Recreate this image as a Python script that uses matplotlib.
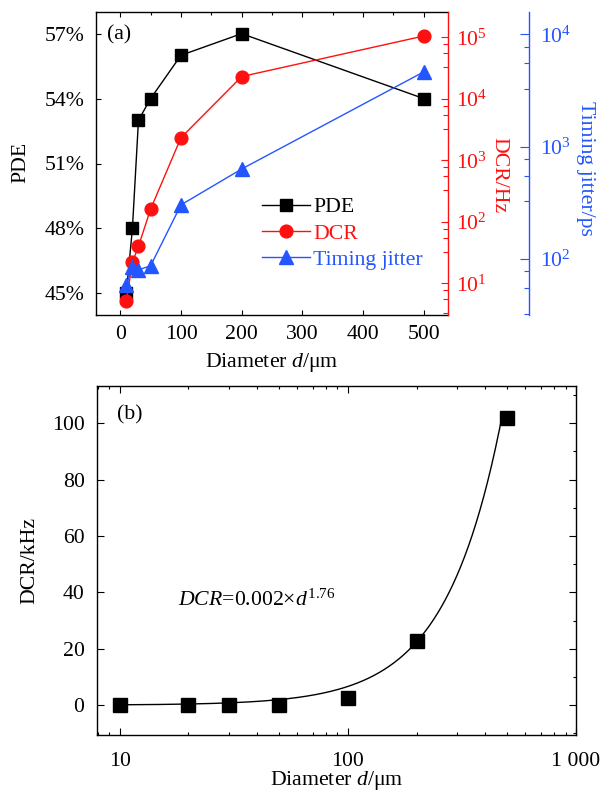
import matplotlib
matplotlib.use('Agg')
import matplotlib.pyplot as plt
from matplotlib.ticker import FixedLocator, FuncFormatter, MultipleLocator, LogLocator, NullFormatter
import numpy as np

FS = 15.7
plt.rcParams.update({
    'font.family': ['Liberation Serif', 'DejaVu Serif'],
    'font.size': FS,
    'mathtext.fontset': 'custom',
    'mathtext.rm': 'Liberation Serif',
    'mathtext.it': 'Liberation Serif:italic',
    'mathtext.default': 'regular',
    'axes.linewidth': 1.0,
})

# ---- data ----
diameter = [10, 20, 30, 50, 100, 200, 500]          # um
pde = [45, 48, 53, 54, 56, 57, 54]                   # %
dcr_hz = [5.2, 22, 40, 161, 2330, 23000, 105000]     # Hz
jitter_ps = [58.7, 85, 80, 87, 303, 632, 4630]       # ps
dcr_khz = [0.005, 0.022, 0.04, 0.16, 2.4, 22.7, 102] # kHz
fit_coef = 0.002
fit_exp = 1.76
fit_d_range = [10, 472]

pde_ticks = [45, 48, 51, 54, 57]
x_ticks_a = [0, 100, 200, 300, 400, 500]
x_ticks_b = [10, 100, 1000]
x_ticklabels_b = ['10', '100', '1 000']
y_ticks_b = [0, 20, 40, 60, 80, 100]

RED = '#ff1010'
BLUE = '#2456ff'
W, H = 602, 797

def fx(px):
    return px / W

def fy(py):
    return 1 - py / H

fig = plt.figure(figsize=(W / 100, H / 100), dpi=100)

# ---------- panel (a) ----------
ax1 = fig.add_axes([fx(96), fy(315), (448 - 96) / W, (315 - 12) / H])
l1, = ax1.plot(diameter, pde, '-s', color='black', ms=8.3, lw=1.0, label='PDE')
ax1.set_xlim(-40, 540)
ax1.set_ylim(44, 58)
ax1.set_yticks(pde_ticks)
ax1.yaxis.set_major_formatter(FuncFormatter(lambda v, p: '%d%%' % round(v)))
ax1.set_xticks(x_ticks_a)
ax1.xaxis.set_minor_locator(MultipleLocator(50))
ax1.tick_params(which='major', direction='in', top=True, right=False, length=3.6, width=0.8)
ax1.tick_params(which='minor', direction='in', bottom=False, top=True, left=False, length=2.4, width=0.8)
ax1.tick_params(axis='x', pad=7)
ax1.tick_params(axis='y', pad=8)
ax1.spines['right'].set_visible(False)

def pow_fmt(v, p):
    return r'$10^{%d}$' % round(np.log10(v))

minor_subs = [3.25, 5.5, 7.75]

ax2 = ax1.twinx()
ax2.set_yscale('log')
l2, = ax2.plot(diameter, dcr_hz, '-o', color=RED, ms=9.2, lw=1.0, label='DCR')
ax2.set_ylim(3.05, 2.58e5)
ax2.yaxis.set_major_locator(FixedLocator([10.0 ** k for k in range(1, 6)]))
ax2.yaxis.set_minor_locator(FixedLocator([m * 10.0 ** k for k in range(0, 6) for m in minor_subs]))
ax2.yaxis.set_major_formatter(FuncFormatter(pow_fmt))
ax2.yaxis.set_minor_formatter(NullFormatter())
ax2.tick_params(axis='y', which='major', direction='in', colors=RED, length=5.3, width=0.8, pad=6)
ax2.tick_params(axis='y', which='minor', direction='in', colors=RED, length=3.4, width=0.8)
ax2.spines['right'].set_color(RED)
for s in ['left', 'top', 'bottom']:
    ax2.spines[s].set_visible(False)

ax3 = ax1.twinx()
ax3.set_yscale('log')
l3, = ax3.plot(diameter, jitter_ps, '-^', color=BLUE, ms=10.5, lw=1.0, label='Timing jitter')
ax3.set_ylim(31.7, 1.58e4)
ax3.spines['right'].set_position(('outward', 81 * 0.72))
ax3.spines['right'].set_color(BLUE)
for s in ['left', 'top', 'bottom']:
    ax3.spines[s].set_visible(False)
ax3.yaxis.set_major_locator(FixedLocator([10.0 ** k for k in range(2, 5)]))
ax3.yaxis.set_minor_locator(FixedLocator([m * 10.0 ** k for k in range(1, 5) for m in minor_subs]))
ax3.yaxis.set_major_formatter(FuncFormatter(pow_fmt))
ax3.yaxis.set_minor_formatter(NullFormatter())
ax3.tick_params(axis='y', which='major', direction='in', colors=BLUE, length=6.7, width=0.8, pad=8)
ax3.tick_params(axis='y', which='minor', direction='in', colors=BLUE, length=3.8, width=0.8)

ax3.legend([l1, l2, l3], ['PDE', 'DCR', 'Timing jitter'], loc='upper left',
           bbox_to_anchor=(fx(262), fy(197)), bbox_transform=fig.transFigure,
           frameon=False, borderpad=0, borderaxespad=0, handlelength=2.2,
           handletextpad=0.15, labelspacing=0.28, labelcolor='linecolor', fontsize=FS)

fig.text(fx(107), fy(35), '(a)', ha='left', va='center')
fig.text(fx(21), fy(162), 'PDE', rotation=90, ha='center', va='center')
fig.text(fx(272), fy(362), r'Diameter $\mathit{d}$/μm', ha='center', va='center')
fig.text(fx(499), fy(175), 'DCR/Hz', rotation=270, ha='center', va='center', color=RED)
fig.text(fx(586), fy(168), 'Timing jitter/ps', rotation=270, ha='center', va='center', color=BLUE)

# ---------- panel (b) ----------
ax4 = fig.add_axes([fx(97), fy(735), (576 - 97) / W, (735 - 386) / H])
ax4.set_xscale('log')
fit_d = np.logspace(np.log10(fit_d_range[0]), np.log10(fit_d_range[1]), 300)
ax4.plot(fit_d, fit_coef * fit_d ** fit_exp, '-', color='black', lw=1.0)
ax4.plot(diameter, dcr_khz, 's', color='black', ms=10, ls='none')
ax4.set_xlim(7.95, 1000)
ax4.set_ylim(-10.6, 113.2)
ax4.xaxis.set_major_locator(FixedLocator(x_ticks_b))
ax4.xaxis.set_major_formatter(FuncFormatter(lambda v, p: x_ticklabels_b[x_ticks_b.index(int(round(v)))] if int(round(v)) in x_ticks_b else ''))
ax4.xaxis.set_minor_locator(LogLocator(base=10, subs=np.arange(2, 10), numticks=20))
ax4.xaxis.set_minor_formatter(NullFormatter())
ax4.set_yticks(y_ticks_b)
ax4.yaxis.set_minor_locator(MultipleLocator(10))
ax4.tick_params(which='major', direction='in', top=True, right=True, length=4.8, width=0.8)
ax4.tick_params(which='minor', direction='in', top=True, right=True, left=False, length=2.4, width=0.8)
ax4.tick_params(axis='x', pad=12)
ax4.tick_params(axis='y', pad=9)

fig.text(fx(117), fy(415), '(b)', ha='left', va='center')
fig.text(fx(30), fy(561), 'DCR/kHz', rotation=90, ha='center', va='center')
fig.text(fx(337), fy(781), r'Diameter $\mathit{d}$/μm', ha='center', va='center')
fig.text(fx(178), fy(606), r'$\mathit{DCR}$=0.002×$\mathit{d}^{1.76}$', ha='left', va='baseline')

fig.savefig('out.png', dpi=100)
